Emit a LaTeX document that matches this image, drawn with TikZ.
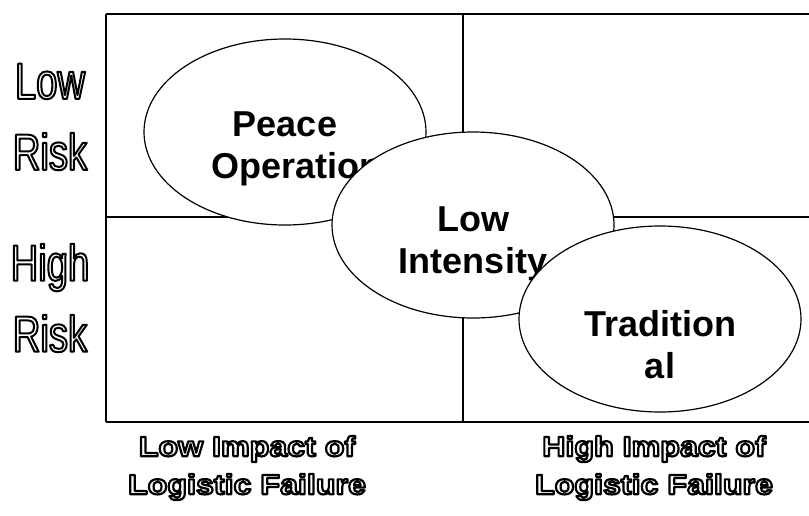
\documentclass[tikz,border=0pt]{standalone}
\usepackage{fontspec}
\usepackage{tikz}
\usetikzlibrary{shapes.geometric}
\setmainfont{Liberation Sans}
\newfontfamily\riskfont[FakeStretch=0.75]{Liberation Sans}
\newfontfamily\impactfont[FakeStretch=1.15]{Liberation Sans}
\newcommand\hollowtext[2]{\special{pdf:literal direct #1 w 1 j 1 Tr}#2\special{pdf:literal direct 0 Tr}}

\begin{document}
\begin{tikzpicture}[x=1pt, y=-1pt,
    zone/.style={ellipse, draw, fill=white, line width=1.2pt, minimum width=282pt, minimum height=186pt, inner sep=0pt},
    zonetext/.style={align=center, font=\bfseries\fontsize{36}{42}\selectfont},
    riskaxis/.style={align=center, font=\riskfont\fontsize{51}{71}\selectfont},
    impactaxis/.style={align=center, font=\impactfont\bfseries\fontsize{28}{38}\selectfont}]
      \useasboundingbox (0,0) rectangle (809,515);

      % grid
      \draw [line width=1.5pt] (106,14) -- (812,14);
      \draw [line width=1.5pt] (106,422) -- (812,422);
      \draw [line width=1.5pt] (106,14) -- (106,422);
      \draw [line width=1.2pt] (463,14) -- (463,422);
      \draw [line width=1.2pt] (106,217) -- (812,217);

      % axis labels
      \node [riskaxis] (lowrisk) at (50,117) {\hollowtext{2}{Low}\\\hollowtext{2}{Risk}};
      \node [riskaxis] (highrisk) at (50,298) {\hollowtext{2}{High}\\\hollowtext{2}{Risk}};
      \node [impactaxis] (lowimpact) at (247,468) {\hollowtext{2.2}{Low Impact of}\\\hollowtext{2.2}{Logistic Failure}};
      \node [impactaxis] (highimpact) at (654,468) {\hollowtext{2.2}{High Impact of}\\\hollowtext{2.2}{Logistic Failure}};

      % zones
      \node [zone] (peace) at (285,132) {};
      \node [zonetext] (peacetext) at ([yshift=-17pt]peace.center) {Peace\\\makebox[148pt][l]{Operations}};
      \node [zone] (lowint) at (473,225) {};
      \node [zonetext] (lowinttext) at ([yshift=-19pt]lowint.center) {Low\\Intensity};
      \node [zone] (trad) at (660,319) {};
      \node [zonetext] (tradtext) at ([yshift=-26pt]trad.center) {Tradition\\al};
    \end{tikzpicture}
\end{document}
